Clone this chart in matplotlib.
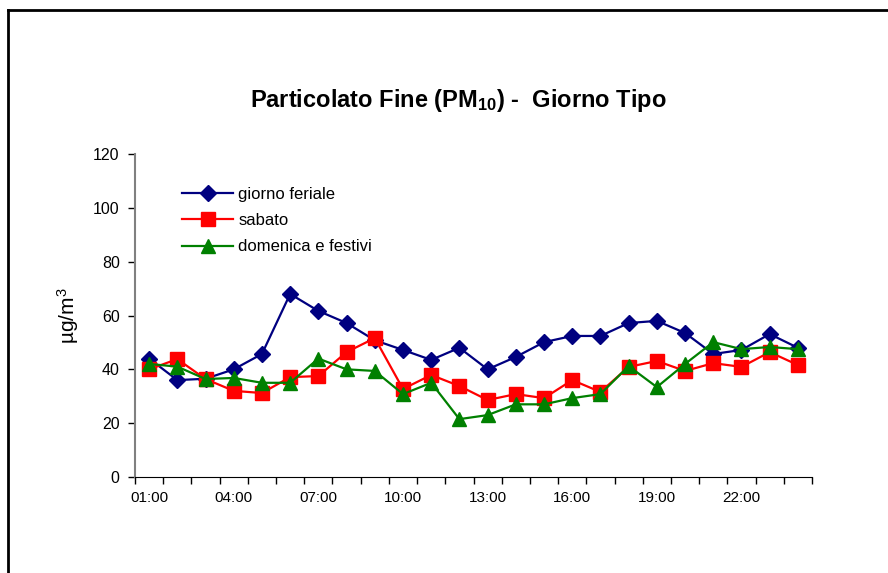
import matplotlib
matplotlib.use('Agg')
import matplotlib.pyplot as plt
import numpy as np
from matplotlib.lines import Line2D

plt.rcParams['font.family'] = ['Liberation Sans', 'DejaVu Sans']
plt.rcParams['mathtext.fontset'] = 'custom'
plt.rcParams['mathtext.rm'] = 'Liberation Sans'
plt.rcParams['mathtext.bf'] = 'Liberation Sans:bold'
plt.rcParams['mathtext.default'] = 'regular'

hours = ['%02d:00' % h for h in range(1, 25)]
label_every = 3

feriale = [44, 36, 36.5, 40, 45.7, 68, 61.7, 57.2, 50.8, 47.2, 43.5, 48, 40, 44.6,
           50.1, 52.4, 52.4, 57.2, 58, 53.5, 45.7, 47.2, 53.1, 48]
sabato = [40, 43.8, 36.4, 32, 31.2, 37.1, 37.5, 46.4, 51.6, 32.7, 37.9, 33.8, 28.6, 30.8,
          29.3, 36, 31.6, 40.9, 43.1, 39.4, 42.3, 40.9, 46.4, 41.6]
domenica = [42, 41, 36.4, 36.8, 35, 35, 44, 40, 39.4, 30.8, 35, 21.5, 23, 27,
            27, 29.3, 30.8, 41.2, 33.4, 42, 50.1, 47.5, 48.3, 47.5]

fig = plt.figure(figsize=(8.88, 5.73), dpi=100)
ax = fig.add_axes([135 / 888, 1 - 477 / 573, (812 - 135) / 888, (477 - 154) / 573])

x = np.arange(1, len(hours) + 1)
ax.plot(x, feriale, color='#000080', lw=1.6, marker='D', ms=8.5, label='giorno feriale')
ax.plot(x, sabato, color='#ff0000', lw=1.6, marker='s', ms=9.5, label='sabato')
ax.plot(x, domenica, color='#008000', lw=1.6, marker='^', ms=10.5, label='domenica e festivi')

ax.set_xlim(0.5, len(hours) + 0.5)
ax.set_ylim(0, 120)
ax.set_yticks(np.arange(0, 121, 20))

# category axis: tick marks between categories, labels on every third category
ax.set_xticks(np.arange(0.5, len(hours) + 1, 1))
ax.set_xticklabels([])
ax.set_xticks(x[::label_every], minor=True)
ax.set_xticklabels(hours[::label_every], minor=True)
ax.tick_params(axis='x', which='major', length=5, width=1, direction='out', color='black')
ax.tick_params(axis='x', which='minor', length=0, pad=10, labelsize=11)
ax.tick_params(axis='y', length=5, width=1, direction='out', color='black', labelsize=11.5, pad=6)

for s in ['top', 'right']:
    ax.spines[s].set_visible(False)
ax.spines['left'].set_color('#808080')
ax.spines['left'].set_linewidth(1.5)
ax.spines['bottom'].set_color('black')

ax.set_ylabel('µg/m$^3$', fontsize=15, labelpad=9)

leg = ax.legend(loc='upper left', bbox_to_anchor=(0.047, 0.945), frameon=False,
                fontsize=12, handlelength=3.1, labelspacing=0.68, handletextpad=0.3)

fig.text(458 / 888, 1 - 101 / 573, 'Particolato Fine (PM$_{10}$) -  Giorno Tipo',
         ha='center', va='center', fontsize=17, fontweight='bold')

# outer chart frame (only top and left edges fall inside the image)
fig.add_artist(Line2D([8 / 888, 8 / 888], [0, 1 - 10 / 573], color='black', lw=2, transform=fig.transFigure))
fig.add_artist(Line2D([8 / 888, 1], [1 - 10 / 573, 1 - 10 / 573], color='black', lw=2, transform=fig.transFigure))

fig.savefig('out.png', dpi=100)
